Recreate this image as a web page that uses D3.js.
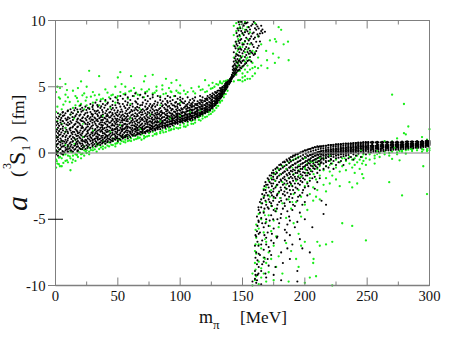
<!DOCTYPE html>
<html><head><meta charset="utf-8">
<script src="https://cdn.jsdelivr.net/npm/d3@7"></script>
<style>html,body{margin:0;padding:0;background:#fff}svg{display:block}text{font-family:"Liberation Serif",serif;fill:#111}</style>
</head><body><svg id="c" width="457" height="338"></svg>
<script>
const xTicks=[0,50,100,150,200,250,300];
const xMinor=[25,75,125,175,225,275];
const yTicks=[-10,-5,0,5,10];
// each row: mπ value followed by scattering lengths read at that mπ
const greenRows=[
[0.5,-.5,-1.1,.6,1.8,3.1,4.6],[1.5,-.8,0,1.2,2.4,3.5,5],[3.6,5.6,-.3,-1,.3,2.9,4.1,4.9],[5,-1,-.4,.9,2.2,3.3],[8,5.2,-.6,-.1,1.6,3.9,4.4],[10,-.7,-.2,.5,3.2,4.2],[12,-1.3,-.4,.1,2.9],[14,-.2,-.5,3.4,4.7],[16,-.6,-.1,1,3.6,4.3],[18,-.3,.1,3.1,3.9,4.9],[20.5,5.4,-.1,-.4,.3,3.7],[23,-.2,.2,.5,3.3,4.5],[25,0,.2,3.6,4.2,5],[27,6.2,.1,-.1,.4,3.4],[30,.2,.4,3.8,4.6],[33,.1,.5,.7,4],[35,5.8,.3,.6,3.6,4.4],[38,.3,.5,.9,4.1],[40,.4,.7,3.9,4.8],[43,.5,.8,4.2],[46,.6,.9,1.1,4.4],[48,.5,.7,3.8,5],[50,5.7,.8,1,4.3],[52,6.1,.7,1,4.6],[53,5.2,.9,1.2],[56,5,.8,1,1.3,4.5],[58,.9,1.2,4.1],[60.6,5.8,1.1,.9,4.7],[63,1,1.3,4.3,4.9],[66,1.1,1.2,4.4],[69,1,1.4,4.8],[71,5.4,1.3,1.1,4.2],[72,5.8,1.2,4.6],[75,1.3,1.5,4.8],[78,5.9,1.3,1.6,4.5],[81,1.5,1.4,4.7,5],[84,1.6,1.5,4.3],[85.7,5.1,1.7,4.8],[88.6,5.6,1.6,1.8,4.5],[91,1.7,1.9,4.9],[93,5.3,1.8,4.6],[95,1.8,2,4.3],[97,5.5,1.9,4.7],[100,5.1,1.9,2.1,4.5],[103,2,2.2,4.7],[106,2.1,2.3,4.6],[109,2.2,2.4,4.9],[112,2.3,2.5,4.5],[115,2.5,2.7,5],[118,2.6,2.8,4.8],[120,5.5,2.7,3,4.6],[123,2.9,3.1,5.1],[126,3.1,3.3,4.9,5.3],[129,3.4,3.6,5.2],[132,3.8,3.9,5.3,5.4],[135,4.2,4.4,5.4],[138,4.7,5.5],
[143,7.2,8.1,8.9,9.6,6,5.4],[145,6.4,7.5,8.4,9.2,9.8,5.9,6.9],[146.5,6.8,7.9,8.6,9.4,6.2,5.5],[148,5.5,6.2,7.1,8,8.8,9.5,9.9],[150,5.4,6,6.5,7.3,8.3,9,9.7,5.7],[152,5.5,5.8,6.3,6.9,7.6,8.4,9.3,9.9],[154,5.6,6.1,6.6,7.2,7.8,8.6,9.5],[156,5.6,6.3,7,7.5,8.2,9.1],[158,5.8,6.4,6.8,7.7],[160,6,6.5,7.6,9.8],[162.5,6.4,7.2,8.8],[165,6.6,8.2],[169,7.7],[169.7,7],[170,6.4],[172,8.5],[174.5,7.5],[176,8.6,6.8],[177,8.4],[179,9.5,7.2],[181,9.3],[183,8.2],[186.5,8.4],[187,7],
[158,-10,-9.1],[160,-8.3,-9.6,-7.4],[160.5,-6.9,-8.8,-5.8],[161,-5.4,-7.6,-9.3,-6.4],[163,-4.6,-6.9,-8.2,-9.9,-5.7],[165,-3.8,-5,-7.2,-8.7,-9.4],[167,-3.3,-4.4,-6,-7.9,-9.1,-2.7],[169,-2.6,-3.7,-5.2,-6.7,-8.3,-9.7],[171,-2.1,-3.2,-4.7,-7.5,-9],[173,-1.9,-2.8,-4,-5.9,-8],[175,-1.6,-3.4,-5.1,-7,-9.6],[177,-1.4,-2.5,-4.4,-6.3,-8.6],[179,-1.2,-3,-5.6,-7.8],[182,-1,-2.2,-3.8,-9.1],[185,-.9,-2.7,-4.9,-6.8],[187,-.7,-1.9,-3.5,-9.7],[189,-.6,-2.4,-4.2,-7.4],[191,-.5,-1.6,-3.1,-5.3],[193,-.4,-2.1,-3.7,-8],[195,-.3,-1.3,-2.8,-8.6,-6.1],[197,-1.8,-3.3,-4.8,-7],[200,-6.7,-1.1,-2.5,-3.9,-9.8],[202,-.8,-1.5,-2.2,-4.3],[204,-9.4,-.6,-1.9,-3.1],[206.7,-8.3,-1,-2.6,-3.6],[207,-8,-.7,-1.6],[209,-9.3,-.5,-2,-3.3],[210,-6.7,-1.2,-2.8],[212,-7,-.8,-1.7,-3.5],[215,-.4,-1.3,-2.4],[217,-6.9,-1,-1.9,-2.9],[220,-.6,-1.4,-2.3],[222,-6.7,-10,-.8,-1.7],[225,-.5,-1.1,-2],[228,-.7,-1.4,-2.5],[230,-5.3,-.4,-1],[233,-.6,-1.3],[235.8,-2.2,-.3,-.8],[238,-2.6,-5.5,-.5,-1.1],[240,-.4,-.9,-1.5],[242,-2.3,-.2,-.7],[244,-.5,-1.2],[246,-1.6,-.3,-.8],[247,-1.9,-.1,-.6],[249,-6.6,-.4,-.9],[252,-.1,-.5],[256,-.8,-.2,-.4],[260,0,-.3],[264,.1,-.1,.9],[267.7,-2.2,0,-.2],[270,4.4,.85,-.45,.1],[274,1.1,.05,-.1],[276,-.55,.15],[278,-3.2,.1,.2],[279.5,3.7,1.5],[281,1.4,.2,-.05],[283,2,.25],[286,.15,.3],[290,.2,.35],[294,1.2,.3,.1],[295,-1,.25],[298,1,-3.1,.3,.15],[300,1.8,.35,.2]];
const greenRows2=[[1,.15,-.62],[2.7,-.35,4.2,-.85],[6.3,-.15,3.65,-.75],[9.2,4.75,-.55],[11.4,-.25,3.85],[13.3,-.72,.05],[17.2,-.15,4.15],[19.3,.05,3.55],[21.6,-.05,4.35],[24.2,.12,3.95],[28.4,.22,4.25],[31.5,.28,4.35],[36.4,.42,4.05],[41.7,.55,4.55],[44.8,.62,4.35],[49.2,.72,4.15],[54.6,.85,4.45],[59.2,.95,4.65],[64.6,1.05,4.55],[67.6,1.15,4.35],[73.5,1.25,4.65],[79.6,1.42,4.55],[86.6,1.55,4.45],[92.4,1.72,4.65],[98.5,1.85,4.55],[104.4,1.98,4.45],[110.5,2.2,4.65],[116.4,2.45,4.75],[121.5,2.75,4.65],[124.6,2.95,4.85],[127.5,3.2,5],[130.5,3.55,5.15],[133.6,3.95,5.25],[136.6,4.45,5.45]];
const blackRows=[
[0.5,-.1,.2,.5,.9,1.3,1.6,2.1,2.7],[2,-.2,.1,.4,.7,1,1.2,1.5,1.9,2.2,2.6,3],[4,0,.3,.6,.8,1.1,1.4,1.8,2.3,2.5,2.9],[6,.1,-.1,.5,.9,1.3,1.7,2,2.4,2.8,3.1],[8,.2,.4,.7,1,1.2,1.6,1.9,2.6,3],[10,.1,.3,.6,1.1,1.5,2.1,2.3,2.7,3.2],[12,.2,.5,.8,1.3,1.7,1.9,2.4,2.9,3.3],[14,.1,.4,.9,1.2,1.6,2,2.5,3],[16,.3,.6,.7,1,1.4,1.8,2.2,2.8,3.4],[18,.2,.5,.9,1.3,1.5,2,2.3,2.6,3.1],[20,.3,.7,1.1,1.4,1.7,2.1,2.5,2.9,3.3,3.6],[22,.4,.6,.9,1.2,1.6,1.9,2.4,2.7,3.2],[24,.3,.8,1,1.3,1.8,2.2,2.6,3,3.5],[26,.5,.7,1.1,1.5,1.7,2,2.3,2.8,3.4],[28,.4,.9,1.2,1.4,1.9,2.4,2.7,3.1,3.7],[30,.6,.8,1,1.3,1.6,2.1,2.5,2.9,3.3,3.6],[32,.5,.9,1.1,1.5,1.8,2.2,2.6,3,3.8],[34,.7,1,1.2,1.4,1.7,2,2.4,2.8,3.2,3.5],[36,.6,.8,1.1,1.6,1.9,2.3,2.7,3.4,3.9],[38,.8,1,1.3,1.5,1.8,2.1,2.5,2.9,3.1,3.7],[40,.7,.9,1.2,1.4,1.7,2.2,2.6,3,3.6,4],[42,.9,1.1,1.3,1.6,2,2.4,2.8,3.3,3.8],[44,.8,1,1.2,1.5,1.9,2.3,2.7,3.1,3.5,4.1],[46,.9,1.1,1.4,1.7,2.1,2.5,2.9,3.4,3.9],[48,1,1.2,1.3,1.6,1.8,2.2,2.6,3,3.6,4.2],[50,.9,1.1,1.4,1.7,2,2.4,2.8,3.2,3.8,4],[52,1,1.3,1.5,1.9,2.3,2.7,3.1,3.5,4.3],[54,1.1,1.2,1.4,1.8,2.1,2.5,2.9,3.7,4.1],[56,1.2,1.3,1.6,1.9,2.2,2.6,3,3.4,3.9,4.4],[58,1.1,1.4,1.7,2,2.4,2.8,3.3,3.8,4.2],[60,1.2,1.5,1.6,1.9,2.3,2.7,3.1,3.6,4],[62,1.3,1.4,1.7,2.1,2.5,2.9,3.5,4.3],[64,1.3,1.6,1.8,2,2.2,2.6,3,3.4,3.9,4.5],[66,1.4,1.5,1.7,1.9,2.3,2.8,3.2,3.7,4.1],[68,1.4,1.6,1.9,2.1,2.4,2.7,3.1,3.6,4.4],[70,1.5,1.7,1.8,2,2.5,2.9,3.3,3.8,4.2],[72,1.5,1.6,1.9,2.2,2.6,3,3.5,4,4.5],[74,1.6,1.7,2,2.3,2.7,3.1,3.4,3.9,4.3],[76,1.6,1.8,1.9,2.1,2.4,2.8,3.2,3.7,4.1],[78,1.7,1.9,2,2.2,2.5,2.9,3.3,3.6,4.2,4.4],[80,1.7,1.8,2.1,2.4,2.7,3,3.5,3.9],[82,1.8,1.9,2,2.3,2.6,2.9,3.2,3.8,4.3],[84,1.8,2,2.2,2.5,2.8,3.1,3.4,4,4.2],[86,1.9,2.1,2.3,2.4,2.7,3,3.6,3.9],[88,1.9,2,2.2,2.5,2.9,3.3,3.7,4.1],[90,2,2.1,2.3,2.6,2.8,3.2,3.5,3.8,4.3],[92,2,2.2,2.4,2.7,3,3.4,3.9,4.2],[94,2.1,2.3,2.5,2.6,2.9,3.3,3.6,4],[96,2.2,2.3,2.4,2.7,3.1,3.5,3.8,4.3],[98,2.2,2.4,2.6,2.8,3,3.4,3.7,4.1],[100,2.3,2.4,2.5,2.7,2.9,3.2,3.6,4,4.2],[102,2.3,2.5,2.6,2.8,3.1,3.3,3.8,4.1],[104,2.4,2.5,2.7,2.9,3,3.5,3.9],[106,2.4,2.6,2.7,2.8,3.2,3.4,3.7,4.2],[108,2.5,2.6,2.8,2.9,3.1,3.3,3.6,4],[110,2.5,2.7,2.8,3,3.2,3.5,3.8,4.1],[112,2.6,2.7,2.9,3,3.1,3.4,3.7,4.2],[114,2.7,2.8,2.9,3.1,3.3,3.6,3.9],[116,2.8,2.9,3,3.2,3.4,3.7,4,4.3],[118,2.9,3,3.1,3.3,3.5,3.8,4.2],[120,3,3.1,3.2,3.3,3.4,3.6,3.9,4.1],[122,3.1,3.2,3.3,3.5,3.7,4,4.3],[124,3.2,3.3,3.5,3.6,3.8,4.1,4.4],[126,3.4,3.5,3.6,3.7,3.9,4.2,4.5],[128,3.6,3.7,3.8,3.9,4.1,4.3,4.6],[130,3.8,3.9,4,4.1,4.2,4.4,4.7],[132,4.1,4.2,4.3,4.4,4.5,4.7,4.9],[134,4.4,4.5,4.6,4.7,4.8,5],[136,4.7,4.8,4.9,5,5.1,5.2],[138,5,5.1,5.2,5.3,5.4],[140,5.3,5.4,5.5,5.6],[141.5,5.6,5.7,5.8,5.9],[143,5.8,6,6.2,6.4,6.6,6.9,7.6],[144.5,6,6.2,6.4,6.6,7,7.3,7.9,8.4],[146,6.2,6.5,6.8,7.1,7.4,8.1,8.8,9.4],[147.5,6.3,6.6,7,7.6,8.3,8.9,9.7],[149,6.4,6.8,7.2,7.8,8.6,9.2,9.9],[151,6.6,7,7.7,8.2,8.9,9.6],[153,6.8,7.4,8,8.7,9.3,9.8],[155,7,7.5,7.9,8.5,9,9.5],[157,6.9,7.6,8.3,8.8,9.6],[159,7.4,8,8.6,9.1,9.9],[161,7.7,8.4,9.3,9.7],[163,8.8,9.4,8.1],[165,9.2,9.6],
[158,-9.7],[160,-7,-8.9,-9.5],[161,-7.5,-6.3,-9.8],[162,-5.5,-6.7,-8.1,-9.2],[163,-4.3,-5.2,-6.1,-7.6,-8.6],[165,-3.5,-4.1,-4.9,-6.9,-8.9,-9.9],[167,-2.8,-3.4,-4.5,-5.6,-7.3,-8.2],[169,-2.4,-3,-3.9,-5,-6.4,-6.9,-9.4],[171,-2,-2.6,-3.5,-4.2,-5.5,-7.1,-8.5],[173,-1.7,-2.3,-3,-3.8,-4.7,-6.6,-7.7],[175,-1.5,-2,-2.7,-3.3,-4.3,-5.7,-6.8,-9.2],[178,-1.1,-1.8,-2.4,-3.1,-3.9,-5,-6.3],[181,-.9,-1.6,-2.1,-2.8,-3.6,-4.6,-7.5,-9.6],[184,-.7,-1.4,-2,-2.6,-3.2,-4,-5.8,-6.6],[186,-.6,-1.3,-1.7,-2.3,-3,-4.4,-5.4,-7.2],[188,-.5,-1.1,-1.6,-2.2,-2.8,-3.7,-5.1,-6.2,-8],[190,-.3,-.9,-1.4,-1.9,-2.5,-3.4,-4.3,-6.9],[192,-.2,-.8,-1.3,-1.8,-2.3,-3,-4,-5.6],[194,-.1,-.7,-1.1,-1.5,-2,-2.7,-3.6,-5.2,-8.9,-9.7],[196,0,-.6,-1,-1.4,-1.9,-2.4,-3.2,-4.5,-6.5],[198,.1,-.4,-.8,-1.2,-1.7,-2.2,-3,-3.9,-7.2],[200,.2,-.3,-.7,-1,-1.5,-2,-2.6,-3.7,-5],[202,.25,-.2,-.6,-.9,-1.3,-1.7,-2.3,-3.2],[204,.3,-.15,-.5,-.8,-1.2,-1.6,-2.1,-7.5],[206,.4,-.1,-.3,-.6,-1,-1.4,-1.9,-5.6],[208,.45,0,-.2,-.5,-.9,-1.2,-1.8,-2.7],[210,.5,.05,-.1,-.4,-.7,-1.1,-1.5,-2.2],[212,.5,.1,-.05,-.3,-.6,-.9,-1.3,-1.9],[213.4,-3.6,.5,.15,-.1,-.4,-.7],[215,-4.6,.55,.15,0,-.2,-.5,-.8,-1.2],[217,-3.9,.55,.2,.05,-.15,-.4,-.7,-1],[219,.6,.2,.05,-.1,-.3,-.6,-1.1],[221,.6,.25,.1,-.05,-.25,-.5,-.8],[223,.6,.25,.1,-.1,-.3,-.6,-1.2],[225,.65,.3,.15,0,-.2,-.4,-.9],[227,.65,.3,.15,.05,-.15,-.35,-.7],[229,.65,.35,.2,.05,-.1,-.3,-.6],[231,.7,.35,.2,.1,-.1,-.25,-.9],[233,.7,.4,.25,.1,-.05,-.2,-.5],[235,.7,.4,.25,.15,0,-.15,-.4],[237,.7,.4,.3,.15,0,-.3],[239,.75,.45,.3,.2,.05,-.1,-.5],[241,.75,.45,.35,.2,.05,-.2],[243,.75,.5,.35,.2,.1,-.05],[245,.75,.5,.35,.25,.1,-.3],[247,.8,.5,.4,.25,.1,0],[249,.8,.5,.4,.3,.15,-.1],[251,.8,.55,.4,.3,.15,.05],[253,.8,.55,.45,.3,.2,.05],[255,.8,.55,.45,.3,.2,.1],[257,.8,.55,.45,.35,.2,.1],[259,.8,.6,.45,.35,.25,.1],[261,.8,.6,.5,.35,.25,.15],[263,.8,.6,.5,.4,.25,.15],[265,.8,.6,.5,.4,.3,.2],[267,.8,.6,.5,.4,.3,.2],[269,.8,.65,.55,.4,.3,.2],[271,.8,.65,.55,.45,.35,.25],[273,.8,.65,.55,.45,.35,.25],[275,.8,.65,.55,.45,.35,.25],[277,.8,.65,.55,.45,.4,.3],[279,.8,.65,.6,.5,.4,.3],[281,.85,.7,.6,.5,.4,.3],[283,.85,.7,.6,.5,.4,.35],[285,.85,.7,.6,.5,.45,.35],[287,.85,.7,.6,.55,.45,.35],[289,.85,.7,.65,.55,.45,.4],[291,.85,.75,.65,.55,.5,.4],[293,.85,.75,.65,.6,.5,.4],[295,.85,.75,.7,.6,.5,.45],[297,.9,.8,.7,.6,.55,.45],[299,.9,.8,.7,.65,.55,.5],[300,.9,.8,.7,.6]];
const blackRows2=[
[1.2,.05,.65,1.15,1.75,2.35],[2.9,.25,.85,1.35,1.65,2.05,2.75],[4.7,-.05,.45,.95,1.55,2.15,2.65],[5.6,.15,.72,1.25,1.85,2.42,3.05],[7.1,.05,.55,.85,1.45,2.25,2.85],[8.8,.28,.82,1.32,1.75,2.15,2.48],[9.7,.12,.48,.95,1.62,2.55,3.15],[11.3,.35,.72,1.22,1.82,2.18,2.62],[12.8,.18,.62,1.05,1.52,2.28,3.08],[13.6,.42,.85,1.42,1.92,2.72],[15.1,.25,.55,1.12,1.58,2.12,2.68,3.22],[16.9,.45,.82,1.28,1.72,2.38,2.92],[17.5,.15,.68,1.08,1.62,1.95,2.52,3.28],[19.2,.38,.78,1.18,1.55,2.22,2.82],[20.8,.52,.92,1.32,1.88,2.42,3.12],[21.4,.28,.72,1.02,1.48,2.02,2.62,3.42],[23.1,.48,.88,1.22,1.72,2.32,2.88],[24.8,.58,.95,1.42,1.92,2.48,3.25],[25.5,.38,.82,1.25,1.62,2.15,2.72,3.05],[27.2,.62,1.02,1.32,1.78,2.18,2.58,3.32],[28.9,.72,1.12,1.55,2.02,2.52,2.95],[29.6,.52,.95,1.48,1.85,2.28,2.78,3.48],[31.3,.68,1.05,1.38,1.72,2.35,2.68,3.18],[32.8,.82,1.25,1.62,2.08,2.45,3.15],[33.5,.62,1.12,1.48,1.92,2.52,2.92,3.62],[35.1,.78,1.05,1.35,1.75,2.18,2.62,3.05],[36.7,.92,1.28,1.72,2.12,2.48,2.82,3.52],[37.4,.72,1.15,1.62,1.95,2.32,2.72,3.25],[39.2,.85,1.12,1.48,1.88,2.28,2.65,3.42],[40.8,1.02,1.32,1.58,1.92,2.38,2.78,3.18],[41.5,.82,1.22,1.75,2.12,2.52,2.92,3.72],[43.1,1.05,1.38,1.68,1.98,2.28,2.68,3.05],[44.9,.92,1.32,1.72,2.08,2.42,2.82,3.28],[45.6,1.08,1.52,1.82,2.18,2.58,3.02,3.62],[47.2,1.05,1.42,1.78,2.05,2.35,2.75,3.22],[48.8,1.12,1.48,1.92,2.32,2.48,2.88,3.42],[49.5,1.22,1.58,1.82,2.15,2.58,3.08],[51.2,1.08,1.38,1.72,2.12,2.52,2.92,3.72],[52.9,1.22,1.62,1.78,2.08,2.45,2.82,3.28],[53.6,1.32,1.68,1.98,2.32,2.62,3.12],[55.1,1.18,1.52,1.82,2.18,2.48,2.78,3.52],[56.8,1.35,1.72,2.02,2.42,2.72,3.18],[57.5,1.25,1.55,1.88,2.15,2.55,2.95,3.62],[59.2,1.32,1.62,1.92,2.22,2.58,3.02,3.42],[60.9,1.42,1.75,2.08,2.42,2.85,3.25],[61.6,1.35,1.58,1.88,2.28,2.62,3.15,3.72],[63.2,1.45,1.78,2.05,2.35,2.78,3.22],[64.8,1.38,1.68,1.95,2.42,2.75,3.28,3.82],[65.5,1.52,1.82,2.12,2.48,2.92,3.48],[67.1,1.48,1.75,2.02,2.28,2.58,3.02,3.42],[68.8,1.55,1.82,2.15,2.52,2.88,3.25],[69.5,1.62,1.92,2.22,2.62,3.08,3.62],[71.2,1.58,1.82,2.08,2.38,2.72,3.18],[72.9,1.65,1.95,2.35,2.48,2.82,3.28,3.72],[73.6,1.72,1.98,2.18,2.52,2.92,3.32],[75.2,1.72,1.92,2.15,2.38,2.62,3.02,3.55],[76.9,1.78,2.05,2.28,2.58,2.92,3.42],[77.5,1.85,2.02,2.35,2.68,3.08,3.52],[79.2,1.82,2,2.28,2.55,2.82,3.18,3.72],[80.8,1.92,2.15,2.32,2.58,2.88,3.25],[81.6,1.85,2.08,2.42,2.72,3.05,3.62],[83.1,1.95,2.12,2.35,2.62,2.95,3.32],[84.9,2.02,2.28,2.58,2.88,3.18,3.75],[85.5,1.98,2.18,2.42,2.68,3.05,3.52],[87.2,2.05,2.25,2.48,2.72,3.02,3.42],[88.8,2.08,2.32,2.62,2.85,3.15,3.62],[89.6,2.12,2.42,2.68,2.98,3.28,3.92],[91.2,2.15,2.35,2.52,2.75,3.08,3.55],[92.9,2.18,2.38,2.58,2.85,3.22,3.72],[93.5,2.22,2.42,2.72,2.98,3.32],[95.1,2.25,2.45,2.62,2.82,3.12,3.58],[96.8,2.28,2.52,2.78,2.95,3.28,3.85],[97.6,2.32,2.48,2.68,2.92,3.18,3.52],[99.2,2.35,2.55,2.72,2.95,3.25,3.72],[100.9,2.38,2.58,2.82,3.05,3.38,3.88],[101.5,2.42,2.62,2.78,3.02,3.28],[103.1,2.45,2.62,2.82,3.08,3.42,3.75],[104.8,2.48,2.65,2.88,3.12,3.32,3.62],[105.6,2.52,2.72,2.92,3.15,3.52],[107.2,2.55,2.72,2.95,3.18,3.42,3.82],[108.9,2.62,2.78,3,3.22,3.48,3.72],[109.5,2.65,2.82,3.05,3.28,3.62],[111.2,2.68,2.85,3.02,3.28,3.55,3.95],[112.8,2.75,2.92,3.12,3.35,3.62],[113.6,2.78,2.95,3.18,3.42,3.72],[115.2,2.85,3.02,3.22,3.48,3.78],[116.8,2.92,3.08,3.28,3.52,3.85],[117.5,2.95,3.12,3.35,3.62,3.98],[119.2,3.02,3.18,3.38,3.62,3.92],[120.8,3.12,3.28,3.48,3.72,4.02],[121.5,3.15,3.32,3.52,3.78,4.12],[123.2,3.25,3.42,3.62,3.85,4.18],[124.9,3.38,3.55,3.72,3.95,4.25],[125.6,3.45,3.62,3.82,4.05,4.32],[127.2,3.55,3.72,3.92,4.15,4.42],[128.8,3.72,3.88,4.02,4.22,4.52],[129.5,3.78,3.95,4.12,4.32,4.58],[131.1,3.98,4.12,4.28,4.48,4.72],[132.8,4.18,4.32,4.48,4.62,4.82],[133.6,4.28,4.42,4.58,4.72,4.92],[135.2,4.52,4.65,4.78,4.92,5.08],[136.8,4.82,4.95,5.08,5.22,5.32],[137.6,4.92,5.05,5.18,5.32],[139.2,5.18,5.28,5.38,5.48],[140.8,5.42,5.52,5.62,5.72],[142.2,5.72,5.85,6.05,6.28,6.52],
[143.8,5.9,6.1,6.3,6.72,7.15,8.05],[145.2,6.08,6.32,6.55,6.85,7.45,8.22,9.05],[146.8,6.25,6.62,6.95,7.35,7.82,8.45,9.25,9.88],[148.2,6.45,6.88,7.32,7.88,8.52,9.42],[150,6.55,6.95,7.52,8.18,9.05,9.72],[152,6.72,7.25,7.85,8.45,9.12,9.78],[154,6.95,7.62,8.25,9.18,9.85],[156,7.25,7.72,8.62,9.32],[158,7.52,8.18,9.02,9.72],[160,7.48,8.72,9.42],[162,7.92,8.95,9.55],[164,8.42,9.02],[166,9.32,9.05],[168,9.15],
[160.4,-6.2,-7.9,-9.2],[161.6,-4.8,-5.9,-8.4,-9.6],[162.8,-4.1,-5.1,-7,-9.1],[164,-3.7,-4.5,-6,-7.7],[165.8,-3.1,-3.8,-5.3,-6.6,-8.4],[167.6,-2.5,-3.2,-4.2,-6.2,-7.9],[168.4,-2.2,-2.8,-3.6,-5.3,-9.1],[170.2,-1.9,-2.4,-3.2,-4.1,-6,-8],[171.8,-1.7,-2.2,-2.9,-3.7,-5.1,-7.4],[173.6,-1.5,-2,-2.5,-3.2,-4,-6.1],[174.6,-1.3,-1.8,-2.3,-2.9,-3.6,-5],[176.4,-1.2,-1.6,-2.1,-2.6,-3.4,-4.4,-8.6],[177.6,-1.1,-1.5,-1.9,-2.4,-3.2,-4.2,-6.4],[179.4,-.9,-1.3,-1.7,-2.2,-2.9,-3.7,-5.3],[180.6,-.85,-1.2,-1.6,-2,-2.6,-3.4,-4.9],[182.4,-.7,-1.1,-1.5,-1.9,-2.4,-3.1,-4.2,-8.3],[183.6,-.65,-1,-1.4,-1.8,-2.3,-2.9,-3.8],[185.4,-.5,-.9,-1.2,-1.6,-2.1,-2.7,-3.5,-6],[187.4,-.4,-.75,-1.1,-1.5,-1.9,-2.5,-3.3,-4.8],[188.8,-.3,-.65,-1,-1.35,-1.8,-2.3,-3.1],[190.6,-.2,-.55,-.9,-1.25,-1.65,-2.1,-2.8,-3.9],[192.6,-.1,-.45,-.8,-1.1,-1.5,-1.95,-2.6],[194.6,-.05,-.35,-.65,-1,-1.35,-1.8,-2.3,-3.3],[196.6,.05,-.25,-.55,-.85,-1.2,-1.6,-2.1],[198.6,.12,-.15,-.45,-.75,-1.05,-1.45,-1.9,-2.8],[200.8,.18,-.05,-.35,-.6,-.9,-1.25,-1.7],[202.8,.28,.05,-.25,-.5,-.75,-1.1,-1.5,-2.5],[204.8,.32,.12,-.15,-.4,-.65,-.95,-1.35],[206.8,.38,.18,-.05,-.3,-.55,-.8,-1.15],[208.8,.42,.22,.02,-.2,-.45,-.7,-1],[210.8,.46,.28,.08,-.15,-.35,-.6,-.85],[212.8,.48,.32,.12,-.05,-.25,-.5,-.75],[214.8,.52,.35,.18,.02,-.15,-.4],[216.8,.55,.38,.22,.08,-.1,-.3,-.6],[218.8,.58,.42,.28,.12,-.05,-.25],[220.8,.6,.45,.3,.15,0,-.15,-.45],[222.8,.62,.48,.32,.2,.05,-.1],[224.8,.64,.5,.35,.22,.08,-.05],[226.8,.66,.52,.38,.25,.1,-.1],[228.8,.68,.52,.42,.28,.12,0],[230.8,.7,.55,.42,.3,.15,.02],[232.8,.72,.58,.45,.32,.18,.05],[234.8,.72,.6,.48,.35,.2,.08],[236.8,.74,.6,.5,.38,.22,.1],[238.8,.74,.62,.52,.4,.25,.12],[240.8,.76,.62,.52,.42,.28,.15],[242.8,.78,.65,.55,.42,.3,.15],[244.8,.78,.65,.55,.45,.32,.18],[246.8,.8,.68,.58,.48,.35,.2],[248.8,.82,.7,.6,.5,.38,.22],[250.8,.82,.7,.6,.5,.4,.28],[254,.84,.72,.62,.52,.42,.3],[258,.84,.74,.64,.54,.44,.32],[262,.84,.74,.66,.56,.46,.36],[266,.84,.76,.68,.58,.48,.38],[270,.86,.76,.68,.6,.5,.42],[274,.86,.78,.7,.62,.52,.44],[278,.86,.78,.7,.62,.54,.46],[282,.88,.8,.72,.64,.56,.48],[286,.88,.8,.72,.66,.58,.5],[290,.9,.82,.74,.68,.6,.52],[294,.92,.84,.76,.68,.62,.54],[298,.94,.86,.78,.7,.64,.56]];
// green points that show through the black cloud
const greenOverRows=[[8,1.9,.6],[15,.7,2.6],[22,2.2,1.2],[30,1.7],[38,2.8],[44,1.6,3.4],[52,2.1],[60,2.6,3.7],[68,1.8,3.3],[76,2.9],[84,2.4,3.6],[92,2.6],[100,2.8,3.8],[108,3.1],[116,3.2],[146,7.7,6.6],[150,8,9.4],[153,7.1],[168,-4.7,-6.5,-8],[172,-3.3,-5.5],[176,-2.1,-4.2],[180,-1.6,-3.4],[185,-2.4,-1.2],[190,-1.1,-3.7],[195,-1.7,-.9],[200,-1.2,-.4],[205,-.7,-1.3],[212,-.4,-1],[220,-.2,-.9],[232,-.4],[245,.2],[258,.15,-.1],[272,.4],[285,.3]];

const flat=rows=>rows.flatMap(([x,...ys])=>ys.map(y=>({x,y})));
const svg=d3.select("#c");
const x=d3.scaleLinear().domain([0,300]).range([55.5,429.5]);
const y=d3.scaleLinear().domain([-10,10]).range([285.5,20.5]);
const axisGray="#7f7f7f";

function dots(rows,color,r){
  svg.append("g").selectAll("circle").data(flat(rows)).join("circle")
    .attr("cx",d=>x(d.x)).attr("cy",d=>y(d.y)).attr("r",r).attr("fill",color);
}
dots(greenRows,"#18ee18",1.15);
dots(greenRows2,"#18ee18",1.15);
dots(blackRows,"#000",1.05);
dots(blackRows2,"#000",1.05);
dots(greenOverRows,"#18ee18",0.95);

const g=svg.append("g").attr("stroke",axisGray).attr("fill","none");
g.append("rect").attr("x",x(0)).attr("y",y(10)).attr("width",x(300)-x(0)).attr("height",y(-10)-y(10)).attr("stroke-width",1);
g.append("line").attr("x1",x(0)).attr("x2",x(300)).attr("y1",y(-10)).attr("y2",y(-10)).attr("stroke-width",1.6);
g.append("line").attr("x1",48).attr("x2",x(300)).attr("y1",y(0)).attr("y2",y(0));
xTicks.slice(1,-1).forEach(t=>{
  g.append("line").attr("x1",x(t)).attr("x2",x(t)).attr("y1",y(10)).attr("y2",y(10)+8);
  g.append("line").attr("x1",x(t)).attr("x2",x(t)).attr("y1",y(-10)).attr("y2",y(-10)-8);
});
xMinor.forEach(t=>{
  g.append("line").attr("x1",x(t)).attr("x2",x(t)).attr("y1",y(10)).attr("y2",y(10)+4);
  g.append("line").attr("x1",x(t)).attr("x2",x(t)).attr("y1",y(-10)).attr("y2",y(-10)-4);
});
yTicks.forEach(t=>{
  const major=t===5||t===-5;
  g.append("line").attr("x1",48).attr("x2",major?63:x(0)).attr("y1",y(t)).attr("y2",y(t))
   .attr("stroke",t===-5?"#000":axisGray);
});

svg.append("g").selectAll("text").data(xTicks).join("text")
  .attr("x",d=>x(d)).attr("y",300.5).attr("text-anchor","middle").attr("font-size",14.7).text(d=>d);
svg.append("g").selectAll("text").data(yTicks).join("text")
  .attr("x",45.5).attr("y",d=>y(d)+5).attr("text-anchor","end").attr("font-size",14.7).text(d=>d);

const lab=(tx,ty,size,s,rot,ital)=>svg.append("text")
  .attr("transform",`translate(${tx},${ty})`+(rot?" rotate(-90)":""))
  .attr("font-size",size).attr("font-style",ital?"italic":null).text(s);
lab(199,323,18,"m");
lab(213,329,13,"π");
lab(240,323,17.3,"[MeV]");
lab(27,211,30,"a",true,true);
lab(24,177,19,"(",true);
lab(11,169,12,"3",true);
lab(25,165,24,"S",true);
lab(30,151,12,"1",true);
lab(24,142,19,")",true);
lab(24,125,17,"[fm]",true);
</script></body></html>
